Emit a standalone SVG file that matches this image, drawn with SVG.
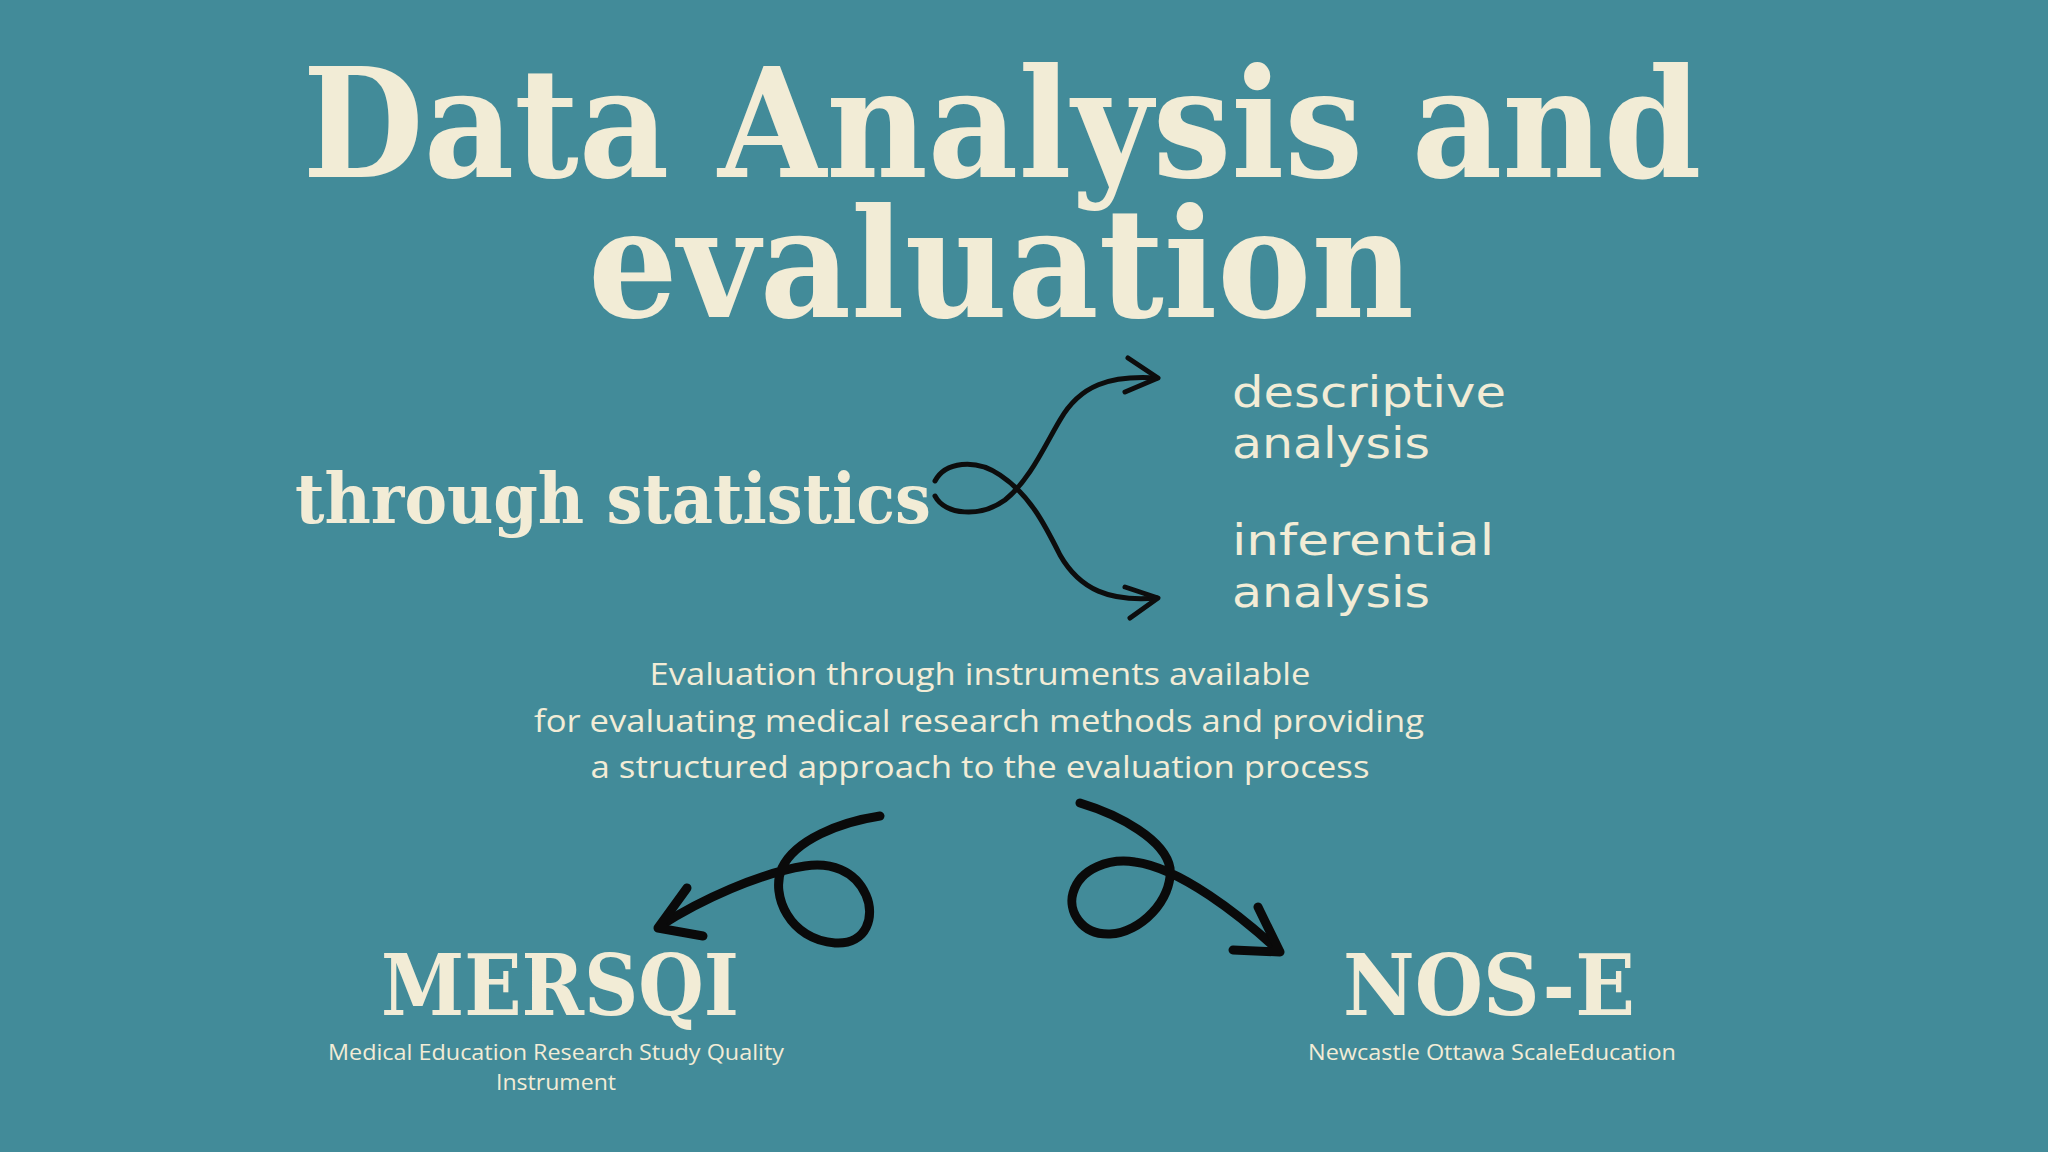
<svg xmlns="http://www.w3.org/2000/svg" width="2048" height="1152" viewBox="0 0 2048 1152">
  <style>
    .title { font-family: "DejaVu Serif", "Liberation Serif", serif; font-weight: bold; fill: #f2ecd6; }
    .hand { font-family: "DejaVu Sans", "Noto Sans", sans-serif; fill: #f2ecd6; }
    .body { font-family: "Open Sans", "Noto Sans", sans-serif; fill: #f2ecd6; }
    .thin { fill: none; stroke: #0d0d0d; stroke-width: 5; stroke-linecap: round; stroke-linejoin: round; }
    .brush { fill: none; stroke: #0a0a0a; stroke-width: 9; stroke-linecap: round; stroke-linejoin: round; }
  </style>
  <rect width="2048" height="1152" fill="#428b99"/>

  <g id="title">
    <text class="title" x="1002" y="177" font-size="152" text-anchor="middle" textLength="1399" lengthAdjust="spacingAndGlyphs">Data Analysis and</text>
    <text class="title" x="1001" y="317" font-size="152" text-anchor="middle" textLength="826" lengthAdjust="spacingAndGlyphs">evaluation</text>
  </g>

  <g id="node-statistics">
    <text class="title" x="295" y="523" font-size="70" textLength="636" lengthAdjust="spacingAndGlyphs">through statistics</text>
  </g>

  <g id="node-descriptive">
    <text class="hand" x="1232" y="407" font-size="43" textLength="274" lengthAdjust="spacingAndGlyphs">descriptive</text>
    <text class="hand" x="1232" y="458" font-size="43" textLength="198" lengthAdjust="spacingAndGlyphs">analysis</text>
  </g>

  <g id="node-inferential">
    <text class="hand" x="1232" y="555" font-size="43" textLength="262" lengthAdjust="spacingAndGlyphs">inferential</text>
    <text class="hand" x="1232" y="607" font-size="43" textLength="198" lengthAdjust="spacingAndGlyphs">analysis</text>
  </g>

  <g id="node-evaluation">
    <text class="body" x="980" y="685" font-size="31" text-anchor="middle" textLength="661" lengthAdjust="spacingAndGlyphs">Evaluation through instruments available</text>
    <text class="body" x="979" y="732" font-size="31" text-anchor="middle" textLength="890" lengthAdjust="spacingAndGlyphs">for evaluating medical research methods and providing</text>
    <text class="body" x="980" y="778" font-size="31" text-anchor="middle" textLength="779" lengthAdjust="spacingAndGlyphs">a structured approach to the evaluation process</text>
  </g>

  <g id="node-mersqi">
    <text class="title" x="560" y="1015" font-size="85" text-anchor="middle" textLength="358" lengthAdjust="spacingAndGlyphs">MERSQI</text>
    <text class="body" x="556" y="1060" font-size="22" text-anchor="middle" textLength="456" lengthAdjust="spacingAndGlyphs">Medical Education Research Study Quality</text>
    <text class="body" x="556" y="1090" font-size="22" text-anchor="middle" textLength="120" lengthAdjust="spacingAndGlyphs">Instrument</text>
  </g>

  <g id="node-nose">
    <text class="title" x="1489" y="1015" font-size="85" text-anchor="middle" textLength="292" lengthAdjust="spacingAndGlyphs">NOS-E</text>
    <text class="body" x="1492" y="1060" font-size="22" text-anchor="middle" textLength="368" lengthAdjust="spacingAndGlyphs">Newcastle Ottawa ScaleEducation</text>
  </g>

  <g id="connectors">
    <path class="thin" d="M 935 481 C 945 462 975 458 1000 475 C 1030 495 1045 525 1060 555 C 1080 590 1110 602 1157 598"/>
    <path class="thin" d="M 1125 587 L 1158 598 L 1130 618"/>
    <path class="thin" d="M 935 496 C 945 515 980 518 1005 500 C 1030 480 1045 445 1060 420 C 1080 385 1110 375 1157 378"/>
    <path class="thin" d="M 1128 358 L 1158 378 L 1125 392"/>

    <path class="brush" d="M 880 816 C 840 822 795 840 782 868 C 770 895 790 940 835 943 C 868 945 875 915 866 895 C 855 870 830 862 805 866 C 760 873 700 900 660 926"/>
    <path class="brush" d="M 687 888 L 658 928 L 703 936"/>

    <path class="brush" d="M 1080 803 C 1120 815 1165 840 1170 868 C 1173 900 1140 933 1110 934 C 1080 935 1068 910 1073 893 C 1080 868 1110 858 1135 862 C 1180 868 1240 915 1279 951"/>
    <path class="brush" d="M 1258 907 L 1280 952 L 1233 950"/>
  </g>
</svg>
